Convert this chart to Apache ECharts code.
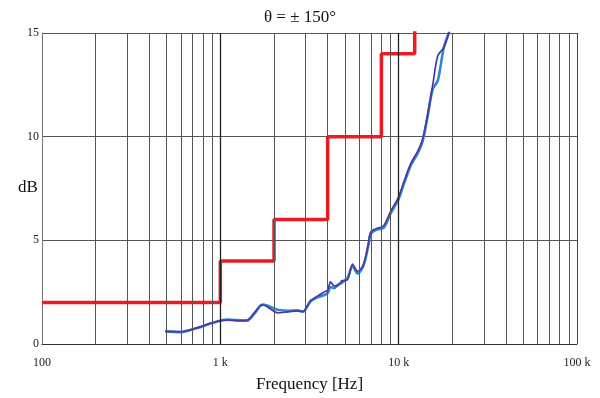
<!DOCTYPE html>
<html><head><meta charset="utf-8">
<script src="https://cdn.jsdelivr.net/npm/echarts@6/dist/echarts.min.js"></script>
<style>html,body{margin:0;padding:0;background:#fff}#c{width:600px;height:398px}</style>
</head><body><div id="c"></div>
<script>
const titleText = 'θ = ± 150°';
const yAxisTitle = 'dB';
const xTickLabels = {100: '100', 1000: '1 k', 10000: '10 k', 100000: '100 k'};
const minorGrid = [200,300,400,500,600,700,800,900,2000,3000,4000,5000,6000,7000,8000,9000,20000,30000,40000,50000,60000,70000,80000,90000];
const decadeGrid = [1000, 10000];
const limitFreq = [100, 1000, 1000, 2000, 2000, 4000, 4000, 8000, 8000, 12300, 12300];
const limitDb   = [2, 2, 4, 4, 6, 6, 10, 10, 14, 14, 16];
const freqA = [491, 596, 739, 914, 1092, 1250, 1413, 1532, 1678, 1745, 1900, 2100, 2400, 2708, 2900, 3204, 3500, 3791, 4000, 4150, 4350, 4542, 4800, 5168, 5516, 5884, 6358, 6781, 6960, 7426, 8236, 9016, 10000, 10670, 11680, 12790, 13640, 14550, 15530, 16570, 17910, 19100, 19500];
const dbA   = [0.62, 0.57, 0.77, 1.03, 1.18, 1.15, 1.12, 1.4, 1.85, 1.9, 1.8, 1.65, 1.6, 1.62, 1.55, 2.05, 2.25, 2.35, 2.45, 2.75, 2.7, 2.85, 2.95, 3.2, 3.75, 3.4, 3.8, 4.8, 5.3, 5.5, 5.6, 6.3, 7.0, 7.7, 8.6, 9.2, 9.8, 11.0, 12.3, 12.7, 14.3, 15, 15.3];
const freqB = [491, 596, 739, 914, 1092, 1250, 1413, 1532, 1678, 1745, 1900, 2100, 2400, 2708, 2900, 3204, 3500, 3791, 4000, 4150, 4350, 4542, 4800, 5168, 5516, 5884, 6358, 6781, 6960, 7426, 8236, 9016, 10000, 10670, 11680, 12790, 13640, 14550, 15530, 16570, 17910, 19100, 19500];
const dbB   = [0.6, 0.6, 0.78, 1.05, 1.15, 1.12, 1.15, 1.45, 1.85, 1.88, 1.7, 1.5, 1.55, 1.6, 1.58, 2.1, 2.3, 2.5, 2.6, 3.0, 2.8, 2.8, 3.05, 3.1, 3.85, 3.5, 3.85, 4.9, 5.4, 5.55, 5.7, 6.4, 7.1, 7.8, 8.7, 9.3, 9.9, 11.1, 12.5, 13.9, 14.3, 15, 15.3];

const serif = '"Liberation Serif", "DejaVu Serif", serif';
const zip = (a, b) => a.map((v, i) => [v, b[i]]);

const chart = echarts.init(document.getElementById('c'), null, {renderer: 'canvas'});
chart.setOption({
  animation: false,
  backgroundColor: '#fff',
  title: {text: titleText, left: 'center', top: 4, textStyle: {fontFamily: serif, fontSize: 17, fontWeight: 'normal', color: '#111'}},
  graphic: [{type: 'text', left: 18, top: 179, style: {text: yAxisTitle, font: '17px ' + serif, fill: '#111'}}],
  grid: {left: 42, right: 23, top: 33, bottom: 52},
  xAxis: {
    type: 'log', logBase: 10, min: 100, max: 100000,
    name: 'Frequency [Hz]', nameLocation: 'middle', nameGap: 32,
    nameTextStyle: {fontFamily: serif, fontSize: 17, color: '#111'},
    axisLine: {show: true, lineStyle: {color: '#333', width: 1}},
    axisTick: {show: false},
    axisLabel: {fontFamily: serif, fontSize: 12, color: '#222', margin: 13,
      formatter: v => xTickLabels[Math.round(v)] || ''},
    splitLine: {show: true, lineStyle: {color: '#444', width: 1}}
  },
  yAxis: {
    type: 'value', min: 0, max: 15, interval: 5,
    axisLine: {show: true, lineStyle: {color: '#777', width: 1}},
    axisTick: {show: false},
    axisLabel: {fontFamily: serif, fontSize: 12, color: '#222', margin: 3},
    splitLine: {show: true, lineStyle: {color: '#555', width: 1}}
  },
  series: [
    {
      type: 'line', data: [], silent: true,
      markLine: {
        silent: true, symbol: 'none', label: {show: false},
        lineStyle: {color: '#555', width: 1, type: 'solid'},
        data: minorGrid.map(v => ({xAxis: v})).concat(decadeGrid.map(v => ({xAxis: v, lineStyle: {color: '#222', width: 1.3}})))
      }
    },
    {type: 'line', data: zip(freqA, dbA), showSymbol: false, smooth: 0.3, clip: true,
      lineStyle: {color: '#2f86d6', width: 2.6}},
    {type: 'line', data: zip(freqB, dbB), showSymbol: false, smooth: 0.3, clip: true,
      lineStyle: {color: '#4a3aa0', width: 1.7}},
    {type: 'line', data: zip(limitFreq, limitDb), showSymbol: false, clip: true,
      lineStyle: {color: '#ec1c24', width: 3.5}}
  ]
});
</script></body></html>
